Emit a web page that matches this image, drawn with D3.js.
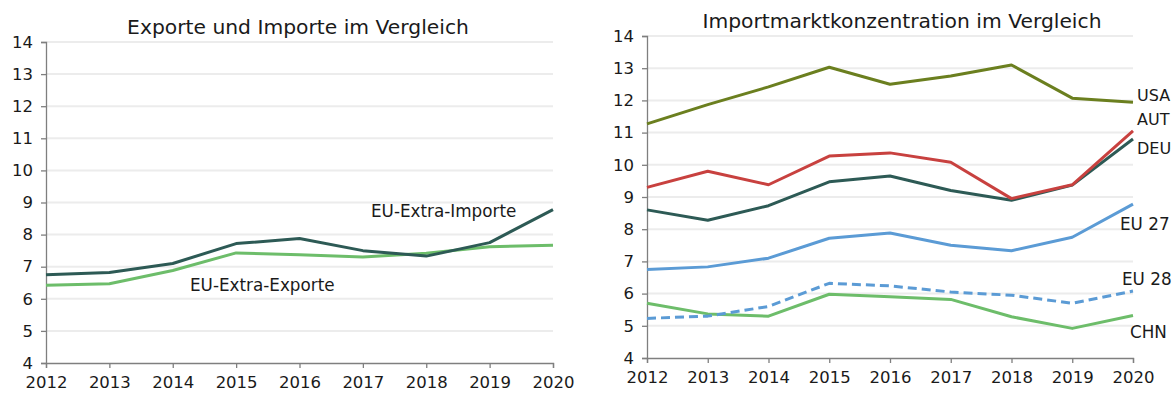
<!DOCTYPE html>
<html>
<head>
<meta charset="utf-8">
<script src="https://cdn.jsdelivr.net/npm/d3@7"></script>
<style>
  html, body { margin: 0; padding: 0; background: #fff; }
  svg { display: block; }
  text { font-family: "DejaVu Sans", sans-serif; fill: #1a1a1a; }
</style>
</head>
<body>
<svg id="chart" width="1172" height="394"></svg>
<script>
// Years on the x axis
const years = [2012, 2013, 2014, 2015, 2016, 2017, 2018, 2019, 2020];
const yTicks = [4, 5, 6, 7, 8, 9, 10, 11, 12, 13, 14];

// Left panel: EU extra imports / exports
const euExtraImporte = [6.75, 6.82, 7.10, 7.72, 7.88, 7.50, 7.33, 7.75, 8.78];
const euExtraExporte = [6.42, 6.47, 6.88, 7.43, 7.37, 7.30, 7.42, 7.62, 7.67];

// Right panel: import market concentration by economy
const usa  = [11.27, 11.87, 12.42, 13.03, 12.50, 12.76, 13.10, 12.07, 11.94];
const aut  = [9.30, 9.80, 9.38, 10.27, 10.37, 10.08, 8.95, 9.38, 11.05];
const deu  = [8.60, 8.28, 8.73, 9.47, 9.65, 9.20, 8.90, 9.37, 10.80];
const eu27 = [6.75, 6.83, 7.10, 7.72, 7.88, 7.50, 7.33, 7.75, 8.78];
const eu28 = [5.23, 5.30, 5.60, 6.32, 6.24, 6.05, 5.95, 5.70, 6.08];
const chn  = [5.70, 5.37, 5.30, 5.98, 5.90, 5.82, 5.28, 4.92, 5.32];

const svg = d3.select("#chart");

function panel(cfg) {
  const g = svg.append("g");
  const x = d3.scaleLinear().domain([2012, 2020]).range([cfg.x0, cfg.x1]);
  const y = d3.scaleLinear().domain([4, 14]).range([cfg.y1, cfg.y0]);

  // horizontal gridlines
  g.append("g").selectAll("line").data(yTicks.filter(t => t > 4)).join("line")
    .attr("x1", cfg.x0).attr("x2", cfg.x1)
    .attr("y1", d => y(d)).attr("y2", d => y(d))
    .attr("stroke", "#ececec").attr("stroke-width", 2);

  // axes
  const yAxis = g.append("g").attr("transform", `translate(${cfg.x0},0)`)
    .call(d3.axisLeft(y).tickValues(yTicks).tickSize(5).tickPadding(8).tickFormat(d3.format("d")));
  const xAxis = g.append("g").attr("transform", `translate(0,${cfg.y1})`)
    .call(d3.axisBottom(x).tickValues(years).tickSize(5).tickPadding(8).tickFormat(d3.format("d")));
  [yAxis, xAxis].forEach(a => {
    a.select(".domain").attr("stroke", "#7f7f7f").attr("stroke-width", 1.3);
    a.selectAll(".tick line").attr("stroke", "#7f7f7f").attr("stroke-width", 1.3);
    a.selectAll(".tick text").attr("font-size", 16.5).attr("font-family", "DejaVu Sans, sans-serif").attr("fill", "#1a1a1a");
  });

  // title
  g.append("text").attr("x", cfg.titleX).attr("y", cfg.titleY)
    .attr("text-anchor", "middle").attr("font-size", 20.3).text(cfg.title);

  const line = d3.line().x((d, i) => x(years[i])).y(d => y(d));
  cfg.series.forEach(s => {
    g.append("path").datum(s.values)
      .attr("d", line).attr("fill", "none")
      .attr("stroke", s.color).attr("stroke-width", 3)
      .attr("stroke-dasharray", s.dash || null)
      .attr("stroke-linejoin", "round");
  });
  cfg.labels.forEach(l => {
    g.append("text").attr("x", l.x).attr("y", l.y)
      .attr("dominant-baseline", "middle").attr("font-size", l.size || 16.8).text(l.text);
  });
}

const cDark = "#2d5a55", cGreen = "#6dbd6a", cOlive = "#6b7f1f",
      cRed = "#c8413f", cBlue = "#5b9bd5";

panel({
  x0: 46, x1: 553, y0: 42, y1: 363,
  title: "Exporte und Importe im Vergleich", titleX: 298, titleY: 34,
  series: [
    { values: euExtraExporte, color: cGreen },
    { values: euExtraImporte, color: cDark }
  ],
  labels: [
    { text: "EU-Extra-Importe", x: 371, y: 212 },
    { text: "EU-Extra-Exporte", x: 190, y: 286 }
  ]
});

panel({
  x0: 647, x1: 1133, y0: 36, y1: 358,
  title: "Importmarktkonzentration im Vergleich", titleX: 902, titleY: 28,
  series: [
    { values: chn, color: cGreen },
    { values: eu28, color: cBlue, dash: "9,5" },
    { values: eu27, color: cBlue },
    { values: deu, color: cDark },
    { values: aut, color: cRed },
    { values: usa, color: cOlive }
  ],
  labels: [
    { text: "USA", x: 1137, y: 96, size: 16 },
    { text: "AUT", x: 1137, y: 120, size: 16 },
    { text: "DEU", x: 1137, y: 149, size: 16 },
    { text: "EU 27", x: 1120, y: 225 },
    { text: "EU 28", x: 1122, y: 280 },
    { text: "CHN", x: 1130, y: 333 }
  ]
});
</script>
</body>
</html>
